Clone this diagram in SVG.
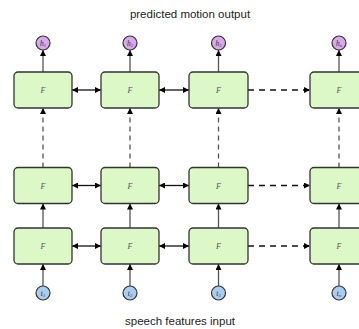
<svg xmlns="http://www.w3.org/2000/svg" width="359" height="329" viewBox="0 0 359 329">
<style>
.box{fill:#dcf8c6;stroke:#333;stroke-width:1.3}
.hc{fill:#d9a8ea;stroke:#333;stroke-width:1.2}
.tc{fill:#a9cdf0;stroke:#333;stroke-width:1.2}
.f{font-family:"Liberation Serif",serif;font-style:italic;font-size:8px;fill:#555;text-anchor:middle}
.cl{font-family:"Liberation Serif",serif;font-style:italic;font-size:7.5px;fill:#333;text-anchor:middle}
.sub{font-size:4.5px}
.title{font-family:"Liberation Sans",Arial,sans-serif;font-size:11.5px;fill:#222;text-anchor:middle}
.v{stroke:#555;stroke-width:1.3;fill:none;marker-end:url(#ah)}
.vd{stroke:#555;stroke-width:1.3;fill:none;stroke-dasharray:5,4;marker-end:url(#ah)}
.h2{stroke:#111;stroke-width:1.3;fill:none;marker-start:url(#ah);marker-end:url(#ah)}
.hd{stroke:#111;stroke-width:1.3;fill:none;stroke-dasharray:6,5;marker-end:url(#ah)}
</style>
<defs>
<marker id="ah" viewBox="0 0 10 10" refX="10" refY="5" markerWidth="6" markerHeight="6" orient="auto-start-reverse" markerUnits="userSpaceOnUse"><path d="M0,0 L10,5 L0,10 z" fill="#000"/></marker>
</defs>
<text class="title" x="190" y="18">predicted motion output</text>
<text class="title" x="180" y="325">speech features input</text>
<g id="connectors">
<line class="v" x1="43" y1="72" x2="43" y2="50"/>
<line class="v" x1="130" y1="72" x2="130" y2="50"/>
<line class="v" x1="218.5" y1="72" x2="218.5" y2="50"/>
<line class="v" x1="339" y1="72" x2="339" y2="50"/>
<line class="vd" x1="43" y1="167.5" x2="43" y2="108"/>
<line class="vd" x1="130" y1="167.5" x2="130" y2="108"/>
<line class="vd" x1="218.5" y1="167.5" x2="218.5" y2="108"/>
<line class="vd" x1="339" y1="167.5" x2="339" y2="108"/>
<line class="v" x1="43" y1="228" x2="43" y2="203.5"/>
<line class="v" x1="130" y1="228" x2="130" y2="203.5"/>
<line class="v" x1="218.5" y1="228" x2="218.5" y2="203.5"/>
<line class="v" x1="339" y1="228" x2="339" y2="203.5"/>
<line class="v" x1="43" y1="286" x2="43" y2="264"/>
<line class="v" x1="130" y1="286" x2="130" y2="264"/>
<line class="v" x1="218.5" y1="286" x2="218.5" y2="264"/>
<line class="v" x1="339" y1="286" x2="339" y2="264"/>
<line class="h2" x1="72" y1="90" x2="101" y2="90"/>
<line class="h2" x1="159" y1="90" x2="189" y2="90"/>
<line class="hd" x1="248" y1="90" x2="310" y2="90"/>
<line class="h2" x1="72" y1="185.5" x2="101" y2="185.5"/>
<line class="h2" x1="159" y1="185.5" x2="189" y2="185.5"/>
<line class="hd" x1="248" y1="185.5" x2="310" y2="185.5"/>
<line class="h2" x1="72" y1="246" x2="101" y2="246"/>
<line class="h2" x1="159" y1="246" x2="189" y2="246"/>
<line class="hd" x1="248" y1="246" x2="310" y2="246"/>
</g>
<g id="h1"><circle class="hc" cx="43" cy="43" r="7"/><text class="cl" x="43" y="45.5">h<tspan class="sub" dy="1">1</tspan></text></g>
<g id="h2"><circle class="hc" cx="130" cy="43" r="7"/><text class="cl" x="130" y="45.5">h<tspan class="sub" dy="1">2</tspan></text></g>
<g id="h3"><circle class="hc" cx="218.5" cy="43" r="7"/><text class="cl" x="218.5" y="45.5">h<tspan class="sub" dy="1">3</tspan></text></g>
<g id="hn"><circle class="hc" cx="339" cy="43" r="7"/><text class="cl" x="339" y="45.5">h<tspan class="sub" dy="1">n</tspan></text></g>
<g id="F11"><rect class="box" x="14" y="72" width="58" height="36" rx="4"/><text class="f" x="43" y="93">F</text></g>
<g id="F12"><rect class="box" x="101" y="72" width="58" height="36" rx="4"/><text class="f" x="130" y="93">F</text></g>
<g id="F13"><rect class="box" x="189" y="72" width="59" height="36" rx="4"/><text class="f" x="218.5" y="93">F</text></g>
<g id="F1n"><rect class="box" x="310" y="72" width="58" height="36" rx="4"/><text class="f" x="339" y="93">F</text></g>
<g id="F21"><rect class="box" x="14" y="167.5" width="58" height="36" rx="4"/><text class="f" x="43" y="188.5">F</text></g>
<g id="F22"><rect class="box" x="101" y="167.5" width="58" height="36" rx="4"/><text class="f" x="130" y="188.5">F</text></g>
<g id="F23"><rect class="box" x="189" y="167.5" width="59" height="36" rx="4"/><text class="f" x="218.5" y="188.5">F</text></g>
<g id="F2n"><rect class="box" x="310" y="167.5" width="58" height="36" rx="4"/><text class="f" x="339" y="188.5">F</text></g>
<g id="F31"><rect class="box" x="14" y="228" width="58" height="36" rx="4"/><text class="f" x="43" y="249">F</text></g>
<g id="F32"><rect class="box" x="101" y="228" width="58" height="36" rx="4"/><text class="f" x="130" y="249">F</text></g>
<g id="F33"><rect class="box" x="189" y="228" width="59" height="36" rx="4"/><text class="f" x="218.5" y="249">F</text></g>
<g id="F3n"><rect class="box" x="310" y="228" width="58" height="36" rx="4"/><text class="f" x="339" y="249">F</text></g>
<g id="t1"><circle class="tc" cx="43" cy="293" r="7"/><text class="cl" x="43" y="295.5">t<tspan class="sub" dy="1">1</tspan></text></g>
<g id="t2"><circle class="tc" cx="130" cy="293" r="7"/><text class="cl" x="130" y="295.5">t<tspan class="sub" dy="1">2</tspan></text></g>
<g id="t3"><circle class="tc" cx="218.5" cy="293" r="7"/><text class="cl" x="218.5" y="295.5">t<tspan class="sub" dy="1">3</tspan></text></g>
<g id="tn"><circle class="tc" cx="339" cy="293" r="7"/><text class="cl" x="339" y="295.5">t<tspan class="sub" dy="1">n</tspan></text></g>
</svg>
